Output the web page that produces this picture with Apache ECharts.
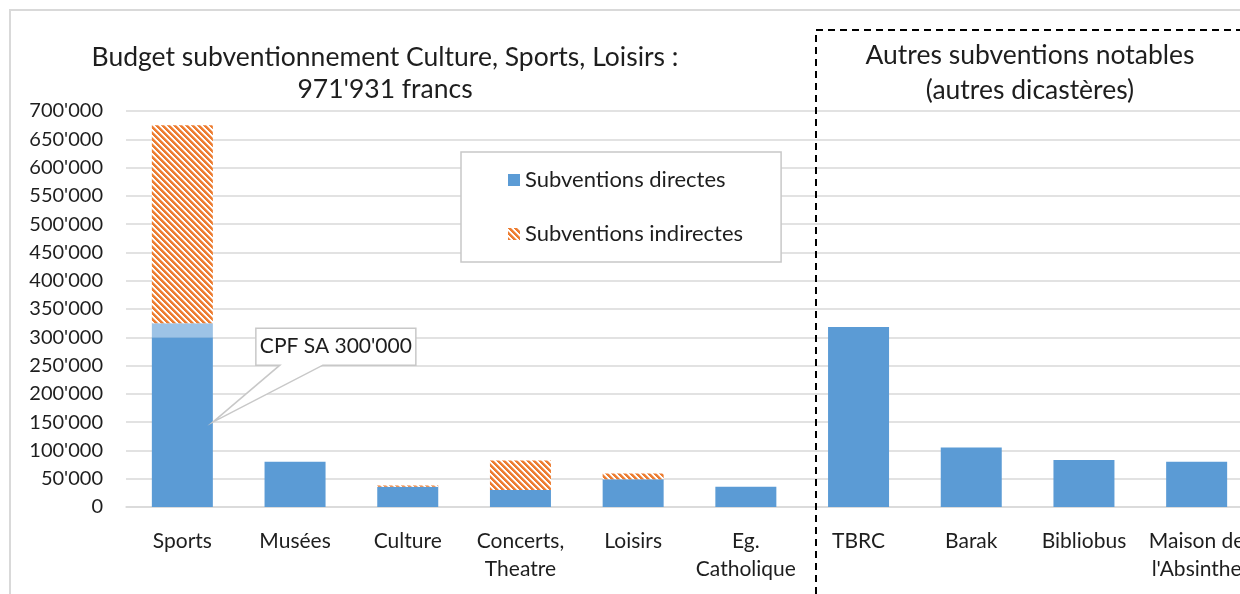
<!DOCTYPE html>
<html><head><meta charset="utf-8">
<script src="https://cdn.jsdelivr.net/npm/echarts@6/dist/echarts.min.js"></script>
<style>html,body{margin:0;padding:0;background:#fff}#c{width:1240px;height:594px}</style>
</head><body><div id="c"></div>
<script>
// ---- data ----
const categories = ['Sports', 'Musées', 'Culture', 'Concerts,\nTheatre', 'Loisirs', 'Eg.\nCatholique', 'TBRC', 'Barak', 'Bibliobus', "Maison de\nl'Absinthe"];
const directes = [300000, 80000, 36000, 30000, 49000, 36000, 318000, 105000, 83000, 80000];
const directesSportsAutres = [25000, 0, 0, 0, 0, 0, 0, 0, 0, 0];
const indirectes = [350000, 0, 2000, 52000, 10000, 0, 0, 0, 0, 0];
const yMin = 0, yMax = 700000, yStep = 50000;
const calloutCategory = 'Sports';
const calloutValue = 150000;
const calloutText = "CPF SA 300'000";
const titleLeft = ['Budget subventionnement Culture, Sports, Loisirs :', "971'931 francs"];
const titleRight = ['Autres subventions notables', '(autres dicastères)'];

const FONT = 'Lato';
const TXT = '#1e1e1e';

function fmt(v) {
  return String(Math.round(v)).replace(/\B(?=(\d{3})+(?!\d))/g, "'");
}

// hatch pattern
function makePattern() {
  const p = 6;
  const cv = document.createElement('canvas');
  cv.width = p; cv.height = p;
  const ctx = cv.getContext('2d');
  ctx.fillStyle = '#ffffff';
  ctx.fillRect(0, 0, p, p);
  for (let y = 0; y < p; y++) {
    for (let x = 0; x < p; x++) {
      const k = ((x - y) % p + p) % p;
      if (k < 3) { ctx.fillStyle = '#ED7D31'; ctx.fillRect(x, y, 1, 1); }
      else if (k === 3) { ctx.fillStyle = '#F6BE9A'; ctx.fillRect(x, y, 1, 1); }
    }
  }
  return { image: cv, repeat: 'repeat' };
}
const hatch = makePattern();

const chart = echarts.init(document.getElementById('c'), null, { renderer: 'canvas' });
const BAR_W = 61;

const option = {
  animation: false,
  backgroundColor: '#fff',
  grid: { left: 126, top: 111, width: 1127, height: 396, containLabel: false, outerBoundsMode: 'none' },
  legend: {
    data: ['Subventions directes', 'Subventions indirectes'],
    orient: 'vertical',
    left: 461, top: 152,
    padding: [17, 38, 17, 47],
    itemGap: 32,
    itemWidth: 12, itemHeight: 12,
    icon: 'rect',
    backgroundColor: '#fff',
    borderColor: '#c8c8c8', borderWidth: 1.5,
    textStyle: { fontFamily: FONT, fontSize: 22, color: TXT, lineHeight: 20 },
    selectedMode: false
  },
  xAxis: {
    type: 'category',
    data: categories,
    axisTick: { show: false },
    axisLine: { show: true, lineStyle: { color: '#d9d9d9', width: 1.5 } },
    axisLabel: { interval: 0, fontFamily: FONT, fontSize: 21, color: TXT, lineHeight: 28, margin: 20 }
  },
  yAxis: {
    type: 'value',
    min: yMin, max: yMax, interval: yStep,
    axisLine: { show: false }, axisTick: { show: false },
    splitLine: { lineStyle: { color: '#d9d9d9', width: 1.5 } },
    axisLabel: { formatter: fmt, fontFamily: FONT, fontSize: 20, color: TXT, margin: 23 }
  },
  series: [
    { name: 'Subventions directes', type: 'bar', stack: 's', barWidth: BAR_W, data: directes,
      itemStyle: { color: '#5B9BD5' } },
    { name: 'Sports autres', type: 'bar', stack: 's', barWidth: BAR_W, data: directesSportsAutres,
      itemStyle: { color: '#9DC3E6' } },
    { name: 'Subventions indirectes', type: 'bar', stack: 's', barWidth: BAR_W, data: indirectes,
      itemStyle: { color: hatch } }
  ],
  graphic: [
    { type: 'rect', shape: { x: 10, y: 10, width: 1400, height: 800 }, style: { fill: 'none', stroke: '#d9d9d9', lineWidth: 2 }, silent: true, z: -10 },
    { type: 'polyline', shape: { points: [[816, 594], [816, 30], [1240, 30]] }, style: { stroke: '#000', lineWidth: 2, lineDash: [7, 5], fill: 'none' }, silent: true, z: 10 },
    { type: 'text', x: 385, y: 57, style: { text: titleLeft[0], fontFamily: FONT, fontSize: 26.5, fill: TXT, align: 'center', verticalAlign: 'middle' } },
    { type: 'text', x: 385, y: 89, style: { text: titleLeft[1], fontFamily: FONT, fontSize: 26.5, fill: TXT, align: 'center', verticalAlign: 'middle' } },
    { type: 'text', x: 1030, y: 55, style: { text: titleRight[0], fontFamily: FONT, fontSize: 26.5, fill: TXT, align: 'center', verticalAlign: 'middle' } },
    { type: 'text', x: 1030, y: 90, style: { text: titleRight[1], fontFamily: FONT, fontSize: 26.5, fill: TXT, align: 'center', verticalAlign: 'middle' } }
  ]
};
chart.setOption(option);

// callout anchored through the axes
const p = chart.convertToPixel({ xAxisIndex: 0, yAxisIndex: 0 }, [calloutCategory, calloutValue]);
const ax = p[0] + BAR_W / 2, ay = p[1];
const L = ax + 43, T = ay - 94, R = L + 160, B = T + 37;
const g = option.graphic.slice();
g.push({
  type: 'polygon', z: 20,
  shape: { points: [[L, T], [R, T], [R, B], [ax + 110, B], [ax, ay], [ax + 67, B], [L, B]] },
  style: { fill: '#fff', stroke: '#c8c8c8', lineWidth: 1.5 }
});
g.push({ type: 'text', z: 21, x: (L + R) / 2, y: (T + B) / 2, style: { text: calloutText, fontFamily: FONT, fontSize: 21, fill: TXT, align: 'center', verticalAlign: 'middle' } });
chart.setOption({ graphic: g }, { replaceMerge: ['graphic'] });
</script>
</body></html>
